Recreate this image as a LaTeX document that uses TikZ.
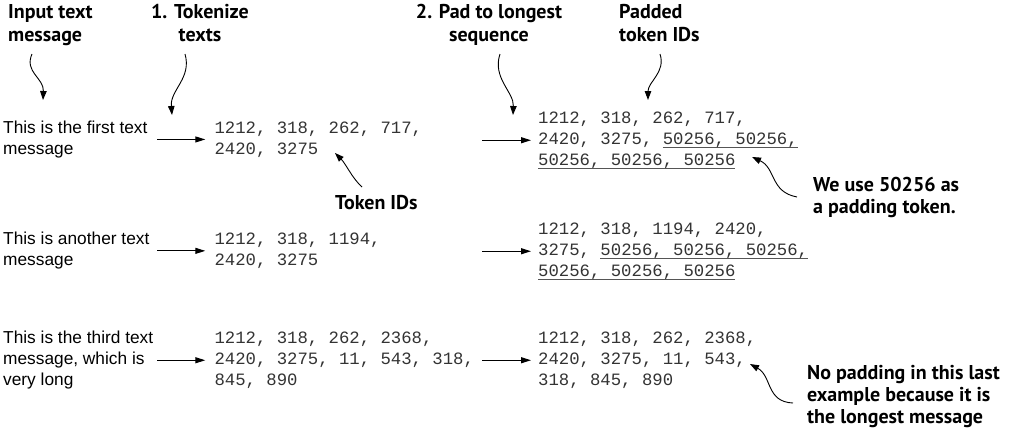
\documentclass[tikz,border=0pt]{standalone}
\usepackage{fontspec}
\setmainfont{Liberation Sans}
\setmonofont{Liberation Mono}
\newfontfamily\lblfont{PT Sans}
\usetikzlibrary{arrows.meta}
\definecolor{idgrey}{HTML}{333333}
\definecolor{ulgrey}{HTML}{555555}
\newcommand\padul[1]{\sbox0{#1}\rlap{\textcolor{ulgrey}{\rule[-3pt]{\wd0}{0.8pt}}}\usebox0}
\begin{document}
\begin{tikzpicture}[x=1pt,y=-1pt,
  lbl/.style={font=\lblfont\bfseries\fontsize{20}{21.7}\selectfont, inner sep=0, align=left, anchor=base west},
  lbltop/.style={lbl, font=\lblfont\bfseries\fontsize{20}{23.4}\selectfont},
  lblc/.style={lbltop, align=center, anchor=base},
  msg/.style={font=\fontsize{17.3}{21}\selectfont, inner sep=0, align=left, anchor=base west},
  ids/.style={font=\ttfamily\fontsize{17.3}{21.2}\selectfont, inner sep=0, align=left, anchor=base west, text=idgrey},
  flow/.style={-{Triangle[length=10pt,width=6pt]}, line width=1.1pt},
  curly/.style={-{Triangle[length=9pt,width=6.5pt]}, line width=0.9pt}]
\useasboundingbox (0,0) rectangle (1012,434);
% labels (anchored at the baseline of their last line)
\node[lbltop] (lin) at (8,41.7) {Input text\\message};
\node[lblc] (ltok) at (200,41.7) {1. Tokenize\\texts};
\node[lblc] (lpad) at (489,41.7) {2. Pad to longest\\sequence};
\node[lbltop] (lpid) at (619,41.7) {Padded\\token IDs};
\node[lbl] (ltid) at (335,209) {Token IDs};
\node[lbl] (lwe) at (813,213.3) {We use 50256 as\\a padding token.};
\node[lbl] (lno) at (807,423.3) {No padding in this last\\example because it is\\the longest message};
% messages
\node[msg] (m1) at (3,154.3) {This is the first text\\message};
\node[msg] (m2) at (3,265.7) {This is another text\\message};
\node[msg] (m3) at (3,385.7) {This is the third text\\message, which is\\very long};
% token ids
\node[ids] (t1) at (214.3,154.3) {1212, 318, 262, 717,\\2420, 3275};
\node[ids] (t2) at (214.3,265.7) {1212, 318, 1194,\\2420, 3275};
\node[ids] (t3) at (214.3,385.7) {1212, 318, 262, 2368,\\2420, 3275, 11, 543, 318,\\845, 890};
% padded
\node[ids] (p1) at (538,165.7) {1212, 318, 262, 717,\\2420, 3275, \padul{50256, 50256,}\\\padul{50256, 50256, 50256}};
\node[ids] (p2) at (538,276.7) {1212, 318, 1194, 2420,\\3275, \padul{50256, 50256, 50256,}\\\padul{50256, 50256, 50256}};
\node[ids] (p3) at (538,385.7) {1212, 318, 262, 2368,\\2420, 3275, 11, 543,\\318, 845, 890};
% flow arrows
\foreach \r in {1,2,3}{
  \draw[flow] ([xshift=-57pt]t\r.west) -- ([xshift=-9pt]t\r.west);
  \draw[flow] ([xshift=-56pt]p\r.west) -- ([xshift=-7pt]p\r.west);
}
% curly arrows
\coordinate (sin) at (32,54);   \coordinate (ein) at (43,100);
\coordinate (stok) at (185,54); \coordinate (etok) at (172,115);
\coordinate (spad) at (500,54); \coordinate (epad) at (513,115);
\coordinate (spid) at (660,54); \coordinate (epid) at (648,100);
\coordinate (stid) at (362,187); \coordinate (etid) at (335,153);
\coordinate (swe) at (797,197); \coordinate (ewe) at (752,157);
\coordinate (sno) at (793,403); \coordinate (eno) at (750,364);
\draw[curly] (sin) .. controls (24,72) and (44,78) .. (ein);
\draw[curly] (stok) .. controls (192,78) and (170,90) .. (etok);
\draw[curly] (spad) .. controls (492,78) and (514,92) .. (epad);
\draw[curly] (spid) .. controls (666,72) and (648,82) .. (epid);
\draw[curly] (stid) .. controls (352,178) and (346,164) .. (etid);
\draw[curly] (swe) .. controls (770,192) and (776,168) .. (ewe);
\draw[curly] (sno) .. controls (766,402) and (772,376) .. (eno);
\end{tikzpicture}
\end{document}
